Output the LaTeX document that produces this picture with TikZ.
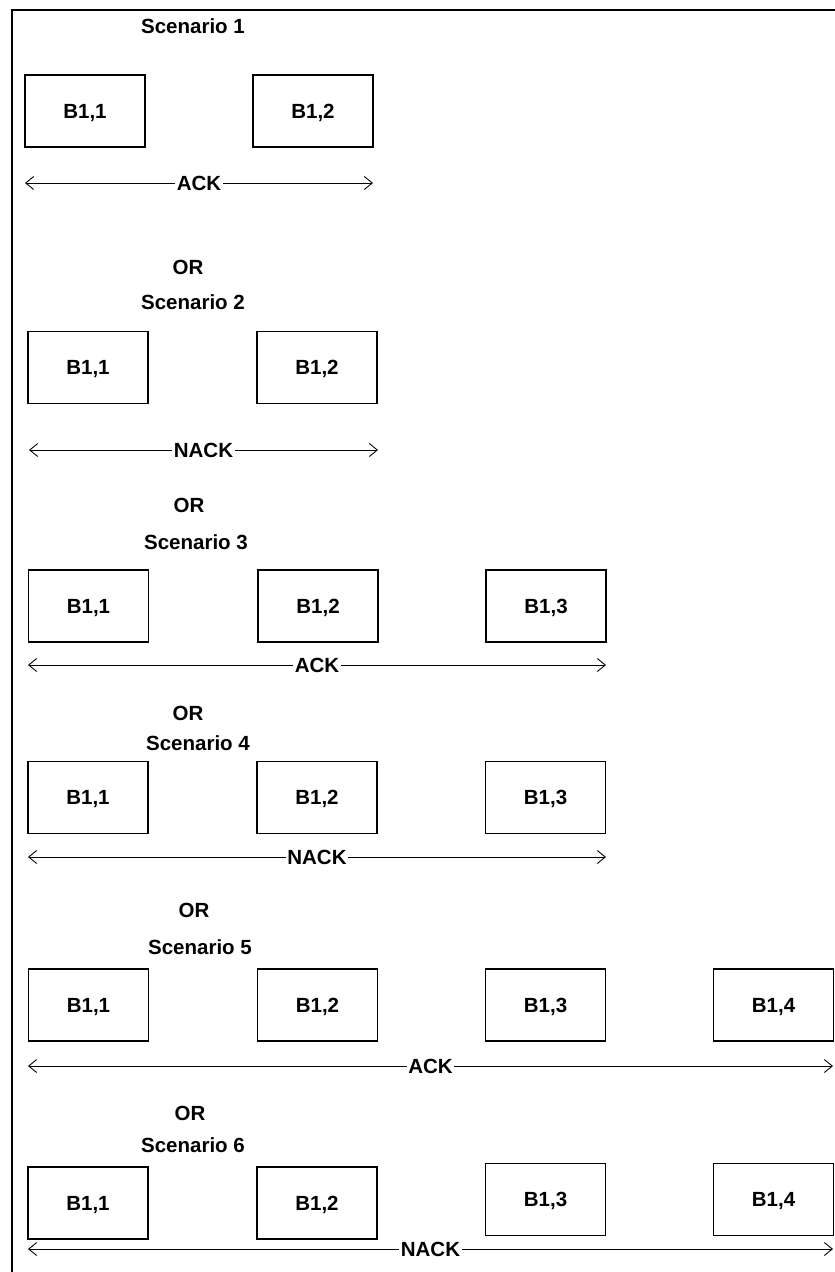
\documentclass[tikz,border=0pt]{standalone}
\usepackage{fontspec}
\setmainfont{Liberation Sans}
\usetikzlibrary{arrows.meta}
\begin{document}
\begin{tikzpicture}[x=1pt,y=-1pt,
  every node/.style={font=\fontsize{20.5}{24}\selectfont\bfseries, text depth=0pt},
  blk/.style={draw, line width=1.3pt, minimum width=120pt, minimum height=72pt, inner sep=0pt},
  caption/.style={inner sep=0pt},
  span/.style={{Straight Barb[length=8pt,width=13pt]}-{Straight Barb[length=8pt,width=13pt]}, line width=0.9pt},
  tag/.style={fill=white, inner sep=1.5pt},
  frameline/.style={line width=1.6pt}]
\useasboundingbox (0,0) rectangle (835,1272);

% outer frame (top and left edges)
\coordinate (fa) at (12,1272);
\coordinate (fb) at (12,10);
\coordinate (fc) at (835,10);
\draw[frameline] (fa) -- (fb) -- (fc);

% ---------- Scenario 1 ----------
\node[caption] (t1) at (193,26) {Scenario 1};
\node[blk] (s1b1) at (85,111) {B1,1};
\node[blk] (s1b2) at (313,111) {B1,2};
\coordinate (s1l) at (25,183);
\coordinate (s1r) at (373,183);
\draw[span] (s1l) -- node[tag] (s1k) {ACK} (s1r);

% ---------- Scenario 2 ----------
\node[caption] (o2) at (188,267) {OR};
\node[caption] (t2) at (193,302) {Scenario 2};
\node[blk] (s2b1) at (88,367.5) {B1,1};
\node[blk] (s2b2) at (317,367.5) {B1,2};
\coordinate (s2l) at (29,450);
\coordinate (s2r) at (378,450);
\draw[span] (s2l) -- node[tag] (s2k) {NACK} (s2r);

% ---------- Scenario 3 ----------
\node[caption] (o3) at (189,505) {OR};
\node[caption] (t3) at (196,542) {Scenario 3};
\node[blk] (s3b1) at (88.5,606) {B1,1};
\node[blk] (s3b2) at (318,606) {B1,2};
\node[blk] (s3b3) at (546,606) {B1,3};
\coordinate (s3l) at (28,665);
\coordinate (s3r) at (606,665);
\draw[span] (s3l) -- node[tag] (s3k) {ACK} (s3r);

% ---------- Scenario 4 ----------
\node[caption] (o4) at (188,713) {OR};
\node[caption] (t4) at (198,743) {Scenario 4};
\node[blk] (s4b1) at (88,797.5) {B1,1};
\node[blk] (s4b2) at (317,797.5) {B1,2};
\node[blk] (s4b3) at (545.5,797.5) {B1,3};
\coordinate (s4l) at (28,857);
\coordinate (s4r) at (606,857);
\draw[span] (s4l) -- node[tag] (s4k) {NACK} (s4r);

% ---------- Scenario 5 ----------
\node[caption] (o5) at (194,910) {OR};
\node[caption] (t5) at (200,947) {Scenario 5};
\node[blk] (s5b1) at (88.5,1005) {B1,1};
\node[blk] (s5b2) at (317.5,1005) {B1,2};
\node[blk] (s5b3) at (545.5,1005) {B1,3};
\node[blk] (s5b4) at (773.5,1005) {B1,4};
\coordinate (s5l) at (28,1066);
\coordinate (s5r) at (833,1066);
\draw[span] (s5l) -- node[tag] (s5k) {ACK} (s5r);

% ---------- Scenario 6 ----------
\node[caption] (o6) at (190,1113) {OR};
\node[caption] (t6) at (193,1145) {Scenario 6};
\node[blk] (s6b1) at (88,1203) {B1,1};
\node[blk] (s6b2) at (317,1203) {B1,2};
\node[blk] (s6b3) at (545.5,1199.5) {B1,3};
\node[blk] (s6b4) at (773.5,1199.5) {B1,4};
\coordinate (s6l) at (28,1249);
\coordinate (s6r) at (833,1249);
\draw[span] (s6l) -- node[tag] (s6k) {NACK} (s6r);
\end{tikzpicture}
\end{document}
